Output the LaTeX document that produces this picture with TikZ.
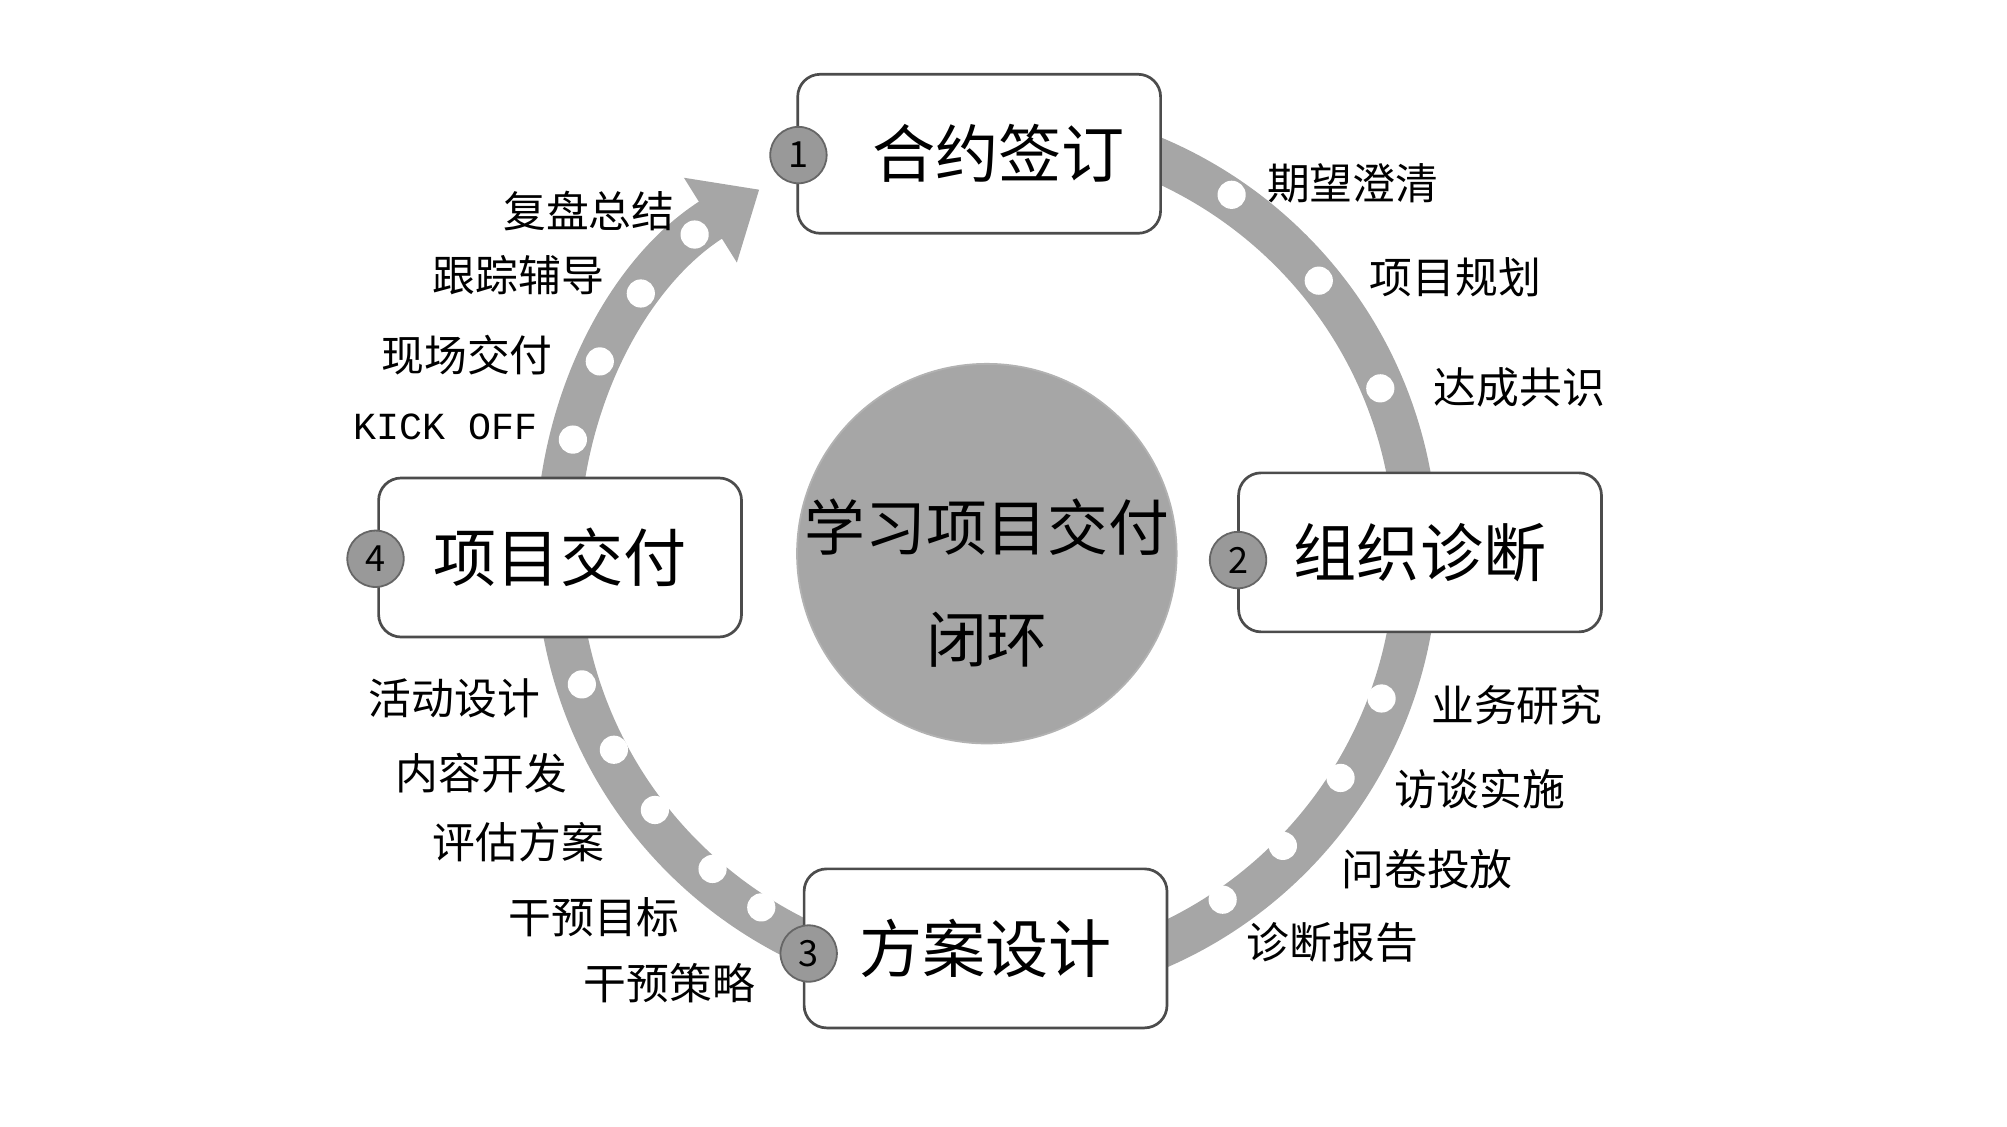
\documentclass[tikz,border=0pt]{standalone}
\usepackage{fontspec}
\setmainfont{Noto Sans CJK SC}
\newfontfamily\kfont{Liberation Mono}
\usetikzlibrary{arrows.meta}
\begin{document}
\begin{tikzpicture}[x=0.01cm,y=-0.01cm,
 box/.style={draw=black!70,line width=0.6pt,fill=white,rounded corners=5pt,minimum width=2.83cm,minimum height=1.24cm,font=\fontsize{14}{16}\selectfont},
 num/.style={circle,draw=black!60,fill=black!40,minimum size=0.44cm,inner sep=0pt,font=\fontsize{8}{9}\selectfont},
 dot/.style={circle,fill=white,minimum size=0.22cm,inner sep=0pt},
 lab/.style={font=\fontsize{9.5}{11}\selectfont,inner sep=0pt}]
\useasboundingbox (0,0) rectangle (1566,879);
\coordinate (c) at (770,432);
\draw[black!35,line width=0.34cm,-{Triangle[length=0.45cm,width=0.75cm]}] ([shift={(100:335 and -335)}]c) arc[start angle=100,end angle=-238,x radius=335,y radius=-335];
\node[circle,fill=black!35,draw=black!30,minimum size=2.96cm] (center) at (c) {};
\node[font=\fontsize{13.5}{25}\selectfont,align=center] (ct) at (770,455) {学习项目交付\\闭环};
\node[box] (b1) at (764,120) {\hspace{0.3cm}合约签订};
\node[box] (b2) at (1108,431) {组织诊断};
\node[box] (b3) at (769,740) {方案设计};
\node[box] (b4) at (437,435) {项目交付};
\node[num] (n1) at (623,121) {1};
\node[num] (n2) at (966,437) {2};
\node[num] (n3) at (631,744) {3};
\node[num] (n4) at (293,436) {4};
\foreach \p [count=\i] in {(961,152),(1029,219),(1077,303),(1078,545),(1046,607),(1001,660),(954,702),(454,534),(479,585),(511,632),(556,678),(594,708),(447,343),(468,282),(500,229),(542,183)}
 \node[dot] (d\i) at \p {};
\node[lab,anchor=west] (l1) at (988,143) {期望澄清};
\node[lab,anchor=west] (l2) at (1068,216) {项目规划};
\node[lab,anchor=west] (l3) at (1118,302) {达成共识};
\node[lab,anchor=west] (l4) at (1116,550) {业务研究};
\node[lab,anchor=west] (l5) at (1087,616) {访谈实施};
\node[lab,anchor=west] (l6) at (1046,678) {问卷投放};
\node[lab,anchor=west] (l7) at (972,735) {诊断报告};
\node[lab,anchor=east] (l8) at (422,545) {活动设计};
\node[lab,anchor=east] (l9) at (443,603) {内容开发};
\node[lab,anchor=east] (l10) at (472,657) {评估方案};
\node[lab,anchor=east] (l11) at (531,716) {干预目标};
\node[lab,anchor=east] (l12) at (590,767) {干预策略};
\node[lab,anchor=east,font=\kfont\fontsize{8.5}{10}\selectfont] (l13) at (420,333) {KICK OFF};
\node[lab,anchor=east] (l14) at (432,277) {现场交付};
\node[lab,anchor=east] (l15) at (472,215) {跟踪辅导};
\node[lab,anchor=east] (l16) at (527,165) {复盘总结};
\end{tikzpicture}
\end{document}
